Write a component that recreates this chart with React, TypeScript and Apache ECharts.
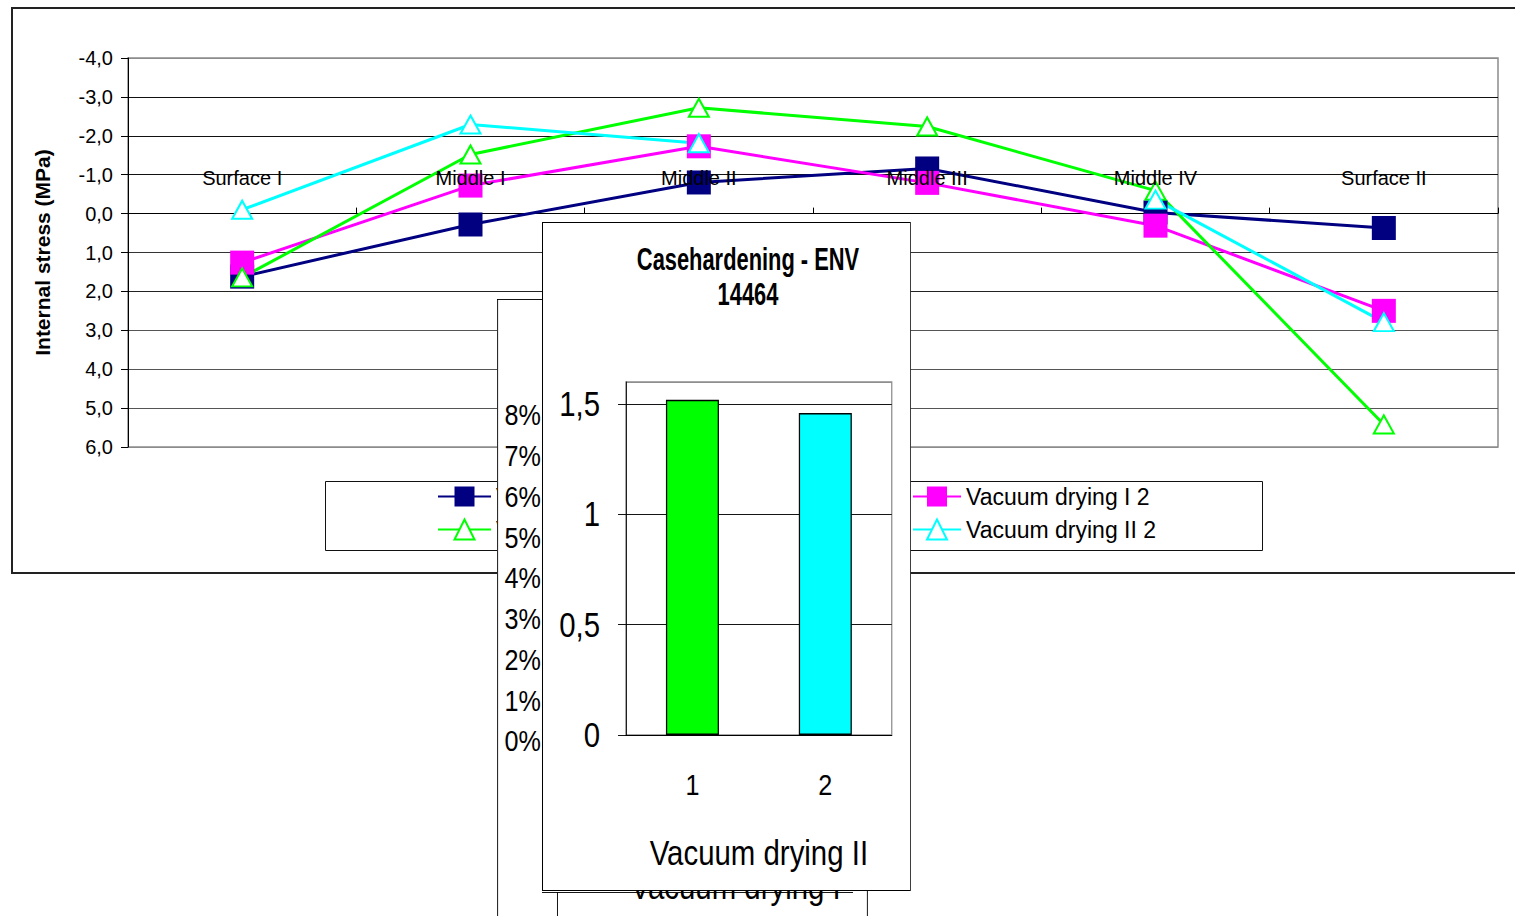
import React, { useEffect, useRef } from "react";
import * as echarts from "echarts";

// ---- Internal stress profile (MPa), negative = compression, drawn on an inverted axis
const categories = ["Surface I", "Middle I", "Middle II", "Middle III", "Middle IV", "Surface II"];
const seriesNames = ["Vacuum drying I 1", "Vacuum drying I 2", "Vacuum drying II 1", "Vacuum drying II 2"];
const dryingI1 = [1.62, 0.28, -0.8, -1.16, -0.03, 0.37];
const dryingI2 = [1.26, -0.72, -1.73, -0.79, 0.31, 2.5];
const dryingII1 = [1.64, -1.52, -2.72, -2.24, -0.59, 5.42];
const dryingII2 = [-0.1, -2.29, -1.81, null, -0.36, 2.79];
const stressMin = -4;
const stressMax = 6;
const stressStep = 1;

// ---- Casehardening (ENV 14464) panel
const caseTitle = "Casehardening - ENV\n14464";
const caseCategories = ["1", "2"];
const caseValues = [1.52, 1.46];
const caseGroup = "Vacuum drying II";
const caseMin = 0;
const caseMax = 1.6;
const caseStep = 0.5;

// ---- Panel lying underneath (percent scale)
const backGroup = "Vacuum drying I";
const pctMin = 0;
const pctMax = 0.08;
const pctStep = 0.01;

const SANS = '"Liberation Sans", Arial, Helvetica, sans-serif';

const NAVY = "#000080";
const MAGENTA = "#ff00ff";
const GREEN = "#00ff00";
const CYAN = "#00ffff";

// The two small panels are laid out wide and squeezed horizontally,
// which gives their lettering the narrow look of a condensed face.
const K = 0.84;
const u = (v: number) => v / K;

const comma = (v: number, digits: number) => v.toFixed(digits).replace(".", ",");

function ChartBox({ left, top, width, height, option, squeeze = 1 }: any) {
  const ref = useRef<HTMLDivElement>(null);
  useEffect(() => {
    if (!ref.current) return;
    const chart = echarts.init(ref.current, undefined, { renderer: "svg" });
    chart.setOption(option);
    return () => chart.dispose();
  }, [option]);
  return (
    <div style={{ position: "absolute", left, top, width, height }}>
      <div
        ref={ref}
        style={{
          width: width / squeeze,
          height,
          background: "#fff",
          transform: squeeze === 1 ? undefined : `scaleX(${squeeze})`,
          transformOrigin: "0 0",
        }}
      />
    </div>
  );
}

const lineSeries = (name: string, data: any[], color: string, square: boolean) => ({
  name,
  type: "line",
  data,
  connectNulls: false,
  showAllSymbol: true,
  symbol: square ? "rect" : "triangle",
  symbolSize: square ? 24 : [20, 18],
  lineStyle: { color, width: 3 },
  itemStyle: square
    ? { color, borderWidth: 0 }
    : { color: "#ffffff", borderColor: color, borderWidth: 2 },
  emphasis: { disabled: true },
});

const legendBase = {
  orient: "vertical",
  top: 485,
  itemHeight: 25,
  itemGap: 10,
  padding: 0,
  selectedMode: false,
  textStyle: { fontSize: 23, fontFamily: SANS, color: "#000" },
};

// main plot area
const MAIN_TOP = 58;
const MAIN_BOTTOM = 469;
const MAIN_H = 916 - MAIN_TOP - MAIN_BOTTOM;
const zeroOffset = (MAIN_H * (0 - stressMin)) / (stressMax - stressMin);

const mainOption: any = {
  animation: false,
  grid: {
    left: 128,
    top: MAIN_TOP,
    right: 17,
    bottom: MAIN_BOTTOM,
    show: true,
    borderColor: "#8c8c8c",
    borderWidth: 1.5,
  },
  xAxis: {
    type: "category",
    data: categories,
    position: "top",
    // category axis crosses the value axis at 0,0; its labels sit over the lines
    offset: -zeroOffset,
    z: 5,
    boundaryGap: true,
    axisLine: { show: false, onZero: false },
    axisTick: { show: true, inside: false, length: 6, lineStyle: { color: "#000" } },
    axisLabel: { margin: 26, fontSize: 20, color: "#000", fontFamily: SANS, interval: 0 },
    splitLine: { show: false },
  },
  yAxis: {
    type: "value",
    inverse: true,
    min: stressMin,
    max: stressMax,
    interval: stressStep,
    name: "Internal stress (MPa)",
    nameLocation: "middle",
    nameGap: 75,
    nameTextStyle: { fontSize: 21, fontWeight: "bold", fontFamily: SANS, color: "#000" },
    axisLine: { show: true, lineStyle: { color: "#000" } },
    axisTick: { show: true, length: 7, lineStyle: { color: "#000" } },
    axisLabel: {
      margin: 15,
      fontSize: 20,
      color: "#000",
      fontFamily: SANS,
      formatter: (v: number) => comma(v, 1),
    },
    splitLine: {
      show: true,
      lineStyle: {
        color: ["#8c8c8c", "#111", "#111", "#111", "#000", "#333", "#222", "#555", "#555", "#555", "#8c8c8c"],
        width: 1,
      },
    },
  },
  legend: [
    { ...legendBase, left: 437, itemWidth: 53, data: [seriesNames[0], seriesNames[2]] },
    { ...legendBase, left: 912, itemWidth: 48, data: [seriesNames[1], seriesNames[3]] },
  ],
  graphic: [
    {
      type: "rect",
      silent: true,
      shape: { x: 12, y: 8, width: 1530, height: 565 },
      style: { fill: "none", stroke: "#222", lineWidth: 2 },
    },
    {
      type: "rect",
      silent: true,
      shape: { x: 325.5, y: 481.5, width: 937, height: 69 },
      style: { fill: "none", stroke: "#111", lineWidth: 1 },
    },
  ],
  series: [
    lineSeries(seriesNames[0], dryingI1, NAVY, true),
    lineSeries(seriesNames[1], dryingI2, MAGENTA, true),
    lineSeries(seriesNames[2], dryingII1, GREEN, false),
    lineSeries(seriesNames[3], dryingII2, CYAN, false),
  ],
};

// Panel underneath: only its left part and its bottom edge stay visible
const BACK_W = 371;
const BACK_H = 620;
const backLine = (x1: number, y1: number, x2: number, y2: number) => ({
  type: "line",
  silent: true,
  shape: { x1: u(x1), y1, x2: u(x2), y2 },
  style: { stroke: "#000", lineWidth: 1 },
});
const backOption: any = {
  animation: false,
  grid: { left: u(124), top: 116, right: u(18), bottom: 178 },
  xAxis: [
    {
      type: "category",
      data: caseCategories,
      position: "bottom",
      axisLine: { lineStyle: { color: "#000" } },
      axisTick: { length: 72, lineStyle: { color: "#333" } },
      axisLabel: { margin: 35, fontSize: 30, fontFamily: SANS, color: "#000" },
    },
    {
      type: "category",
      data: [backGroup],
      position: "bottom",
      axisLine: { show: false },
      axisTick: { length: 166, lineStyle: { color: "#333" } },
      axisLabel: { margin: 129, fontSize: 35, fontFamily: SANS, color: "#000" },
    },
  ],
  yAxis: {
    type: "value",
    min: pctMin,
    max: pctMax,
    interval: pctStep,
    axisLine: { show: true, lineStyle: { color: "#000" } },
    axisTick: { show: true, length: u(8) },
    axisLabel: {
      margin: u(80),
      fontSize: 30,
      fontFamily: SANS,
      color: "#000",
      formatter: (v: number) => `${Math.round(v * 100)}%`,
    },
    splitLine: { show: true, lineStyle: { color: "#333" } },
  },
  series: [{ type: "bar", data: [] }],
  graphic: [
    backLine(0, 0.5, BACK_W, 0.5),
    backLine(0.6, 0, 0.6, BACK_H),
    backLine(BACK_W - 0.6, 0, BACK_W - 0.6, BACK_H),
    backLine(45, 593.5, 356, 593.5),
    backLine(60.5, 593, 60.5, BACK_H),
  ],
};

// Casehardening panel on top
const CASE_W = 369;
const CASE_H = 669;
const caseColors = [GREEN, CYAN];
const caseOption: any = {
  animation: false,
  grid: {
    left: u(84),
    top: 160,
    right: u(19),
    bottom: 156,
    show: true,
    borderColor: "#8c8c8c",
    borderWidth: 1.5,
  },
  xAxis: [
    {
      type: "category",
      data: caseCategories,
      position: "bottom",
      axisLine: { lineStyle: { color: "#000", width: 1 } },
      axisTick: { length: 72, lineStyle: { color: "#333" } },
      axisLabel: { margin: 35, fontSize: 30, fontFamily: SANS, color: "#000" },
    },
    {
      type: "category",
      data: [caseGroup],
      position: "bottom",
      axisLine: { show: false },
      axisTick: { length: 140, lineStyle: { color: "#333" } },
      axisLabel: { margin: 101, fontSize: 35, fontFamily: SANS, color: "#000" },
    },
  ],
  yAxis: {
    type: "value",
    min: caseMin,
    max: caseMax,
    interval: caseStep,
    axisLine: { show: true, lineStyle: { color: "#000" } },
    axisTick: { show: true, length: u(8), lineStyle: { color: "#000" } },
    axisLabel: {
      margin: u(26),
      fontSize: 35,
      fontFamily: SANS,
      color: "#000",
      showMaxLabel: false,
      formatter: (v: number) => comma(v, v % 1 === 0 ? 0 : 1),
    },
    splitLine: {
      show: true,
      lineStyle: { color: ["#000", "#000", "#000", "#000", "#8c8c8c"], width: 1 },
    },
  },
  series: [
    {
      type: "bar",
      xAxisIndex: 0,
      barWidth: u(53),
      data: caseValues.map((v, i) => ({ value: v, itemStyle: { color: caseColors[i] } })),
      itemStyle: { borderColor: "#000", borderWidth: 1.5 },
      emphasis: { disabled: true },
    },
  ],
  graphic: [
    {
      type: "rect",
      silent: true,
      shape: { x: 0.6, y: 0.5, width: u(CASE_W) - 1.2, height: CASE_H - 1 },
      style: { fill: "none", stroke: "#000", lineWidth: 1.2 },
    },
    {
      type: "group",
      silent: true,
      x: u(206),
      y: 55,
      scaleX: 0.84,
      children: [
        {
          type: "text",
          x: 0,
          y: 0,
          style: {
            text: caseTitle,
            fontSize: 31,
            fontWeight: "bold",
            fontFamily: SANS,
            fill: "#000",
            align: "center",
            verticalAlign: "middle",
            lineHeight: 35,
          },
        },
      ],
    },
  ],
};

export default function App() {
  return (
    <div
      style={{
        position: "fixed",
        left: 0,
        top: 0,
        width: 1515,
        height: 916,
        overflow: "hidden",
        background: "#fff",
      }}
    >
      <ChartBox left={0} top={0} width={1515} height={916} option={mainOption} />
      <ChartBox left={497} top={299} width={BACK_W} height={BACK_H} option={backOption} squeeze={K} />
      <ChartBox left={542} top={222} width={CASE_W} height={CASE_H} option={caseOption} squeeze={K} />
    </div>
  );
}
